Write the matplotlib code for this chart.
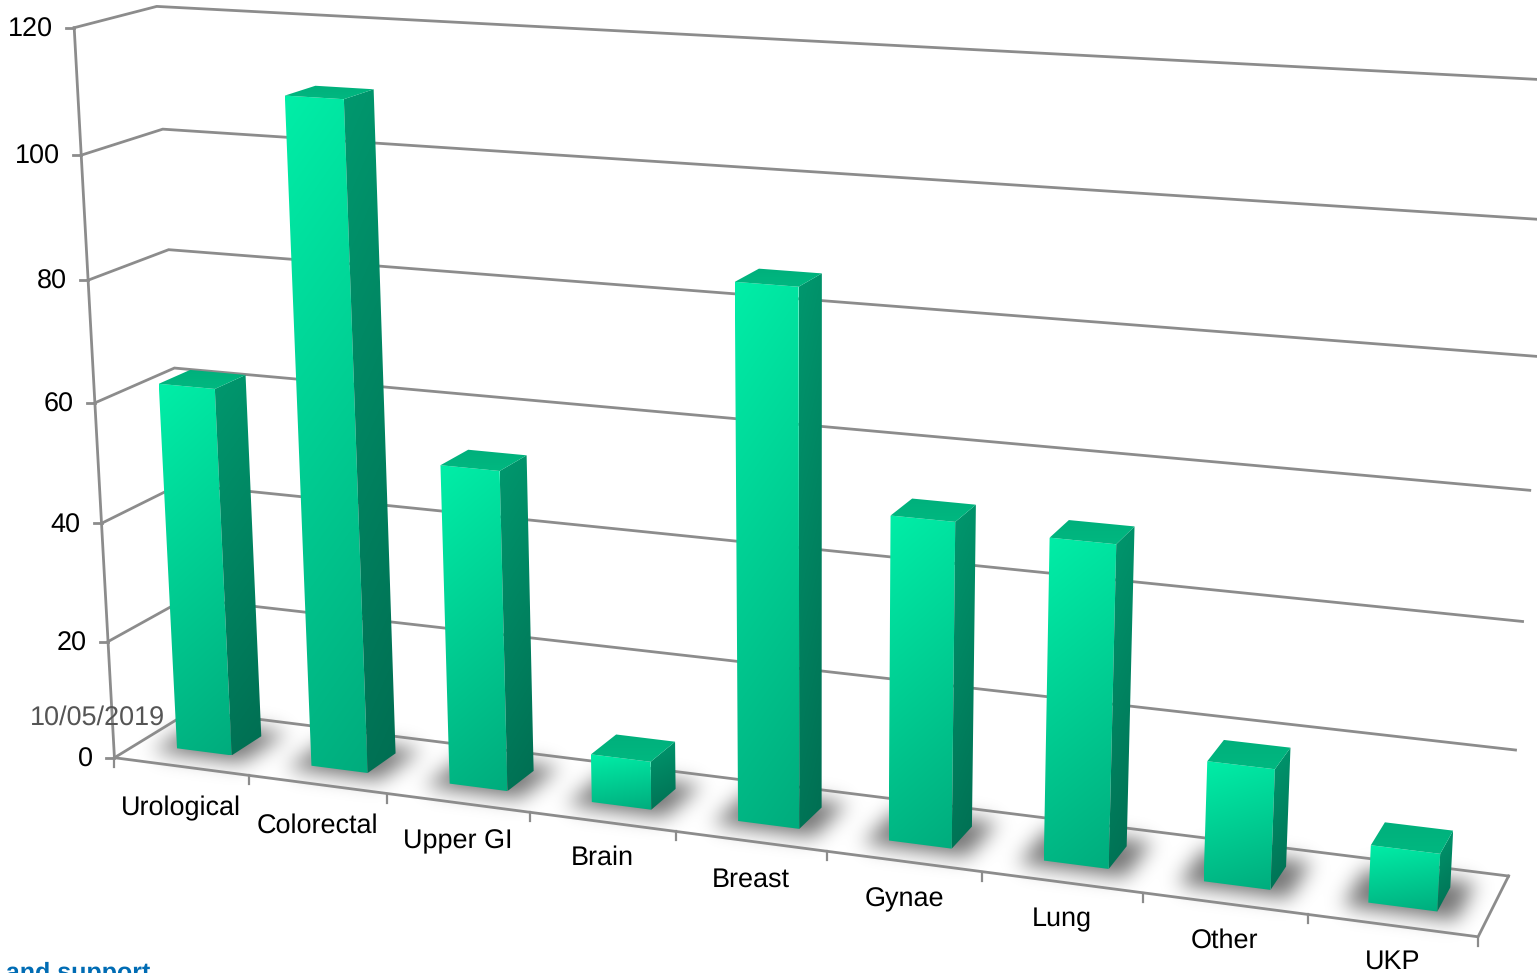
import numpy as np
import matplotlib
matplotlib.use("Agg")
import matplotlib.pyplot as plt
from matplotlib.patches import Polygon
from matplotlib.path import Path

W, H = 1537, 973

categories = ['Urological', 'Colorectal', 'Upper GI', 'Brain', 'Breast',
              'Gynae', 'Lung', 'Other', 'UKP']
values = [62, 110, 53, 8, 86, 52, 51, 19, 9]
y_ticks = [0, 20, 40, 60, 80, 100, 120]

# bar footprint inside one category cell
GAP = 0.295
D0, D1 = 0.3, 0.7

GRID = (140 / 255, 140 / 255, 140 / 255)

# camera calibration: (category pos, value, depth) -> pixel
wall_front = [(115, 758), (107, 640), (101, 522), (95, 402), (88, 279), (81, 155), (75, 29)]
wall_back = [(192, 711), (186, 598), (180, 484), (174, 368), (167, 250), (163, 130), (157, 7)]
far_right = [(1508, 875), (1516, 750), (1522, 622), (1530, 491), (1538, 356), (1545, 219), (1552, 80)]
floor_front = [(115, 758), (248, 775), (387, 795), (531, 814), (678, 832), (827, 852),
               (982, 872), (1142, 892), (1307, 913), (1478, 938)]

# category labels don't follow the floor line exactly
label_drop = [42, 41, 39, 36, 38, 38, 37, 37, 36]


def fit_camera():
    world, px = [], []
    for v, p in zip(y_ticks, wall_front):
        world.append((0, v, 0)); px.append(p)
    for v, p in zip(y_ticks, wall_back):
        world.append((0, v, 1)); px.append(p)
    for v, p in zip(y_ticks, far_right):
        world.append((9, v, 1)); px.append(p)
    for i, p in enumerate(floor_front):
        world.append((i, 0, 0)); px.append(p)

    # least squares for a 3x4 projection with last entry fixed to 1
    A, b = [], []
    for (x, y, z), (u, v) in zip(world, px):
        A.append([x, y, z, 1, 0, 0, 0, 0, -u * x, -u * y, -u * z])
        b.append(u)
        A.append([0, 0, 0, 0, x, y, z, 1, -v * x, -v * y, -v * z])
        b.append(v)
    sol = np.linalg.lstsq(np.array(A, float), np.array(b, float), rcond=None)[0]
    return np.append(sol, 1.0).reshape(3, 4)


CAM = fit_camera()


def proj(x, v, d):
    p = CAM @ np.array([x, v, d, 1.0])
    return p[0] / p[2], p[1] / p[2]


def gradient_face(ax, pts, top_col, bot_col, zorder, diag=0.15):
    # vertical colour ramp with a slight slant, clipped to the face outline
    pts = np.array(pts)
    xmin, ymin = pts.min(axis=0)
    xmax, ymax = pts.max(axis=0)
    yy, xx = np.mgrid[0:1:64j, 0:1:64j]
    t = np.clip(yy * (1 - diag) + xx * diag, 0, 1)[..., None]
    img = np.array(top_col) / 255 * (1 - t) + np.array(bot_col) / 255 * t
    im = ax.imshow(img, extent=(xmin, xmax, ymax, ymin), aspect='auto',
                   interpolation='bilinear', zorder=zorder)
    clip = Polygon(pts, closed=True, transform=ax.transData, fill=False, edgecolor='none')
    ax.add_patch(clip)
    im.set_clip_path(clip)


def floor_shadow(ax):
    gy, gx = np.mgrid[0:H, 0:W]
    grid = np.column_stack([gx.ravel() + 0.5, gy.ravel() + 0.5])
    mask = np.zeros(H * W)
    pad = 0.13
    for i in range(len(values)):
        outline = [proj(i + GAP - pad, 0, D0 - 0.1), proj(i + 1 - GAP + pad, 0, D0 - 0.1),
                   proj(i + 1 - GAP + pad, 0, D1 + 0.12), proj(i + GAP - pad, 0, D1 + 0.12)]
        mask[Path(outline).contains_points(grid)] = 1
    mask = mask.reshape(H, W)

    # gaussian blur, rows then columns
    r = np.arange(-33, 34)
    kernel = np.exp(-r ** 2 / (2 * 10.0 ** 2))
    kernel /= kernel.sum()
    mask = np.apply_along_axis(lambda m: np.convolve(m, kernel, mode='same'), 0, mask)
    mask = np.apply_along_axis(lambda m: np.convolve(m, kernel, mode='same'), 1, mask)

    rgba = np.zeros((H, W, 4))
    rgba[..., 3] = mask * 0.55
    ax.imshow(rgba, extent=(0, W, H, 0), aspect='auto', zorder=2)


def draw_frame(ax):
    lw = 2.0
    for v in y_ticks:
        x0, y0 = proj(0, v, 0)
        x1, y1 = proj(0, v, 1)
        x2, y2 = proj(9, v, 1)
        ax.plot([x0, x1, x2], [y0, y1, y2], color=GRID, lw=lw, zorder=3, solid_joinstyle='miter')
        ax.plot([x0 - 8, x0], [y0, y0], color=GRID, lw=lw, zorder=3)
        ax.text(x0 - 21, y0 + 2, str(v), ha='right', va='center', fontsize=19.3, color='black', zorder=8)

    # left axis and front/right floor edges
    ax.plot(*zip(proj(0, 0, 0), proj(0, 120, 0)), color=GRID, lw=lw, zorder=3)
    ax.plot(*zip(proj(0, 0, 0), proj(9, 0, 0), proj(9, 0, 1)), color=GRID, lw=lw, zorder=3,
            solid_joinstyle='miter')
    for i in range(len(categories) + 1):
        x0, y0 = proj(i, 0, 0)
        ax.plot([x0, x0], [y0, y0 + 9], color=GRID, lw=lw * 0.8, zorder=3)


def draw_bar(ax, i, value):
    xl, xr = i + GAP, i + 1 - GAP

    front = [proj(xl, value, D0), proj(xr, value, D0), proj(xr, 0, D0), proj(xl, 0, D0)]
    side = [proj(xr, value, D0), proj(xr, value, D1), proj(xr, 0, D1), proj(xr, 0, D0)]
    top = [proj(xl, value, D0), proj(xr, value, D0), proj(xr, value, D1), proj(xl, value, D1)]

    gradient_face(ax, front, (0, 238, 167), (0, 172, 125), 5 + i * 0.01)
    gradient_face(ax, side, (0, 152, 110), (0, 110, 82), 5 + i * 0.01)
    gradient_face(ax, top, (0, 176, 124), (0, 184, 128), 5 + i * 0.01, diag=0.0)


def main():
    plt.rcParams['font.family'] = ['Liberation Sans', 'DejaVu Sans']
    plt.rcParams['text.hinting'] = 'no_hinting'
    plt.rcParams['text.hinting_factor'] = 1

    fig = plt.figure(figsize=(W / 100, H / 100), dpi=100)
    ax = fig.add_axes([0, 0, 1, 1])

    floor_shadow(ax)
    draw_frame(ax)

    for i, v in enumerate(values):
        draw_bar(ax, i, v)

    for i, name in enumerate(categories):
        x0, y0 = proj(i + 0.5, 0, 0)
        ax.text(x0, y0 + label_drop[i], name, ha='center', va='center', fontsize=19.3,
                color='black', zorder=8)

    ax.text(30, 718, '10/05/2019', ha='left', va='center', fontsize=19.2,
            color=(85 / 255, 85 / 255, 85 / 255), zorder=8)
    ax.text(150, 980, 's and support', ha='right', va='baseline', fontsize=17.7, fontweight='bold',
            color=(0 / 255, 108 / 255, 180 / 255), zorder=8)

    ax.set_xlim(0, W)
    ax.set_ylim(H, 0)
    ax.axis('off')
    fig.savefig('out.png', dpi=100, facecolor='white')


if __name__ == "__main__":
    main()
